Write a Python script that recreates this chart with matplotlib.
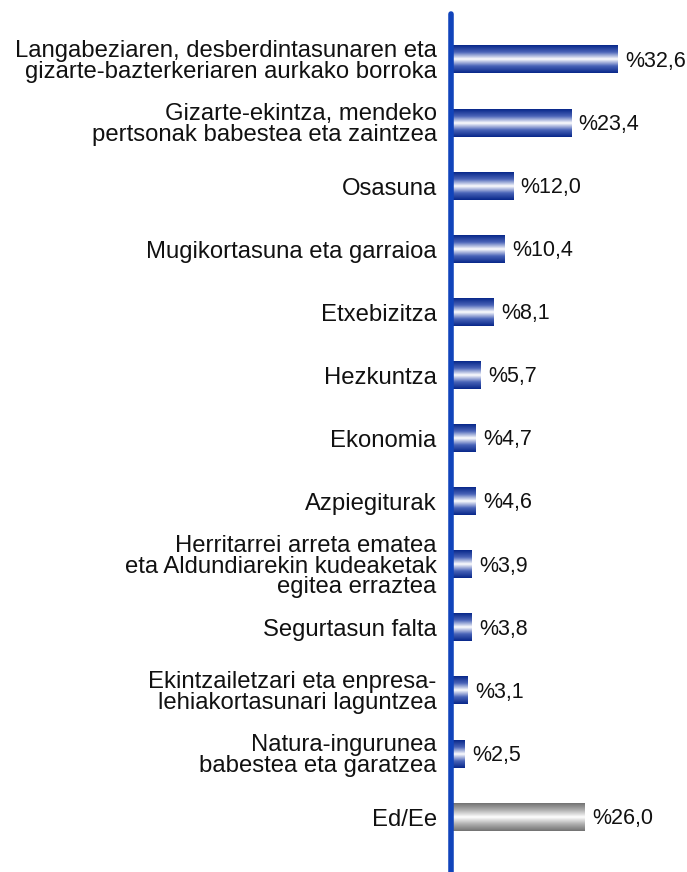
import numpy as np
import matplotlib.pyplot as plt
from matplotlib.colors import LinearSegmentedColormap

# datuak
labels = [
    "Langabeziaren, desberdintasunaren eta\ngizarte-bazterkeriaren aurkako borroka",
    "Gizarte-ekintza, mendeko\npertsonak babestea eta zaintzea",
    "Osasuna",
    "Mugikortasuna eta garraioa",
    "Etxebizitza",
    "Hezkuntza",
    "Ekonomia",
    "Azpiegiturak",
    "Herritarrei arreta ematea\neta Aldundiarekin kudeaketak\negitea erraztea",
    "Segurtasun falta",
    "Ekintzailetzari eta enpresa-\nlehiakortasunari laguntzea",
    "Natura-ingurunea\nbabestea eta garatzea",
    "Ed/Ee",
]
values = [32.6, 23.4, 12.0, 10.4, 8.1, 5.7, 4.7, 4.6, 3.9, 3.8, 3.1, 2.5, 26.0]
value_labels = ["%32,6", "%23,4", "%12,0", "%10,4", "%8,1", "%5,7", "%4,7",
                "%4,6", "%3,9", "%3,8", "%3,1", "%2,5", "%26,0"]

plt.rcParams['font.family'] = ['Liberation Sans', 'DejaVu Sans']

blue_cmap = LinearSegmentedColormap.from_list(
    "blue", ["#08288a", "#4a64b8", "#ffffff", "#4a64b8", "#08288a"])
gray_cmap = LinearSegmentedColormap.from_list(
    "gray", ["#737373", "#b0b0b0", "#ffffff", "#b0b0b0", "#737373"])
grad = np.linspace(0, 1, 64).reshape(-1, 1)

fig = plt.figure(figsize=(6.87, 8.72), dpi=100)
ax = fig.add_axes([452 / 687, 0.0, 235 / 687, 1 - 10 / 872])

h = 0.43
for i, (v, lab) in enumerate(zip(values, value_labels)):
    cmap = gray_cmap if i == len(values) - 1 else blue_cmap
    ax.imshow(grad, cmap=cmap, aspect='auto', interpolation='bilinear',
              extent=(0, v, i + h / 2, i - h / 2), zorder=2)
    ax.annotate(lab, xy=(v, i), xytext=(5.5, -1), textcoords='offset points',
                ha='left', va='center', fontsize=15.5, color='#111111')

ax.set_xlim(0, 46.2)
ax.set_ylim(12.87, -0.79)
ax.set_yticks(range(len(labels)))
ax.set_yticklabels(labels, fontsize=17.2, linespacing=0.92, ha='right',
                   color='#111111')
ax.tick_params(axis='y', length=0, pad=11)
ax.set_xticks([])
for s in ['top', 'right', 'bottom', 'left']:
    ax.spines[s].set_visible(False)
ax.plot([-0.25, -0.25], [12.87, -0.72], color='#1144bb', lw=4,
        solid_capstyle='round', clip_on=False, zorder=3)

fig.savefig("out.png", dpi=100)
